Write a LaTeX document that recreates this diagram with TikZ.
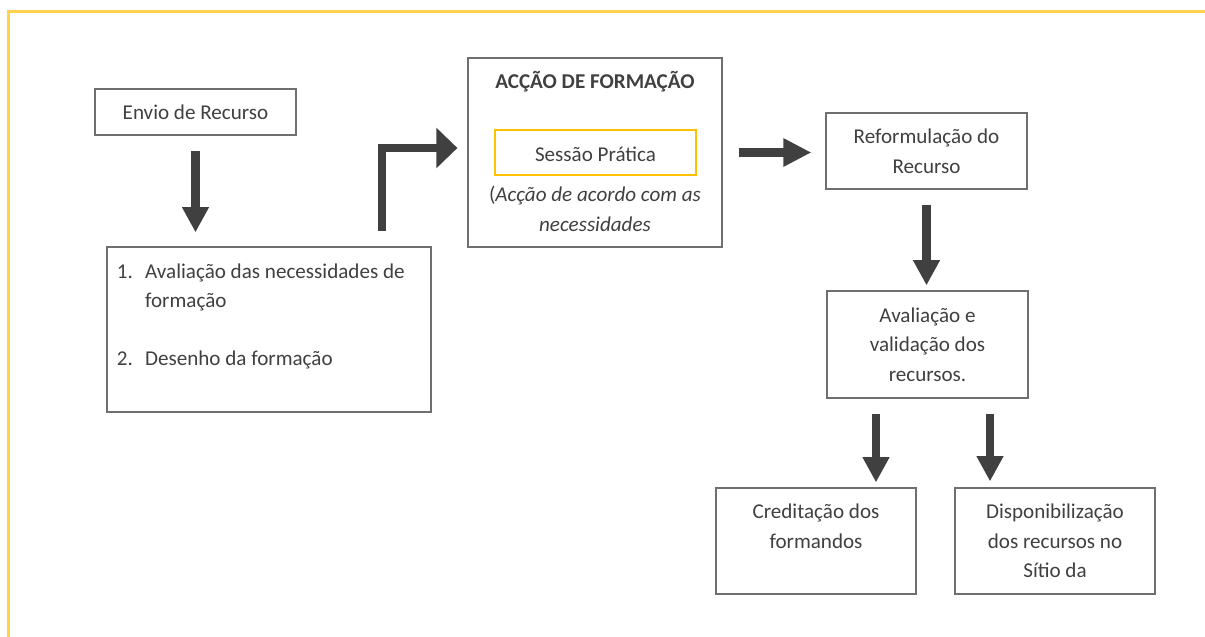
\documentclass[tikz,border=0pt]{standalone}
\usepackage{fontspec}
\setmainfont{Carlito}
\usetikzlibrary{arrows.meta,calc}

\definecolor{borda}{HTML}{6F6F6F}
\definecolor{texto}{HTML}{404040}
\definecolor{cinzaseta}{HTML}{404040}
\definecolor{amarelo}{HTML}{FFC000}
\definecolor{pagina}{HTML}{FFD24D}

\tikzset{
  caixa/.style={draw=borda, line width=0.8pt, text=texto, align=center, inner sep=0pt,
    font=\fontsize{15}{21}\selectfont},
  rotulo/.style={text=texto, inner sep=0pt, font=\fontsize{15}{21}\selectfont},
  seta/.style={draw=cinzaseta, line width=6pt, -{Triangle[width=18pt,length=18pt]}},
}

\begin{document}
\begin{tikzpicture}[x=0.025cm, y=-0.025cm]
    \useasboundingbox (0,0) rectangle (1205,637);
    \draw[pagina, line width=1.8pt] (8.5,637) -- (8.5,11.5) -- (1205,11.5);

    \node[caixa, minimum width=5.025cm, minimum height=1.15cm] (envio) at (195.5,112) {Envio de Recurso};

    \node[caixa, minimum width=8.1cm, minimum height=4.125cm] (lista) at (269,329.5) {};
    \node[rotulo, anchor=base west] (listatxt) at (116.7,278.3)
      {\begin{tabular}[t]{@{}p{20pt}@{}l@{}}
        1. & Avaliação das necessidades de\\
           & formação\\[20pt]
        2. & Desenho da formação
      \end{tabular}};

    \node[caixa, minimum width=6.35cm, minimum height=4.725cm] (accao) at (595,152.5) {};
    \node[rotulo, anchor=base, font=\fontsize{15}{21}\selectfont\bfseries] (titulo) at (595,89) {ACÇÃO DE FORMAÇÃO};
    \node[caixa, draw=amarelo, minimum width=5.025cm, minimum height=1.125cm] (sessao) at (595.5,152.5) {};
    \node[rotulo, anchor=base] (sessaotxt) at (595.5,161.7) {Sessão Prática};
    \node[rotulo, anchor=base] (nota1) at (595,201.7) {(\textit{Acção de acordo com as}};
    \node[rotulo, anchor=base] (nota2) at (595,231.7) {\textit{necessidades}};

    \node[caixa, minimum width=5.025cm, minimum height=1.9cm] (reform) at (926.5,151) {Reformulação do\\Recurso};
    \node[caixa, minimum width=5.025cm, minimum height=2.675cm] (avalia) at (927.5,344.5) {Avaliação e\\validação dos\\recursos.};
    \node[caixa, minimum width=5cm, minimum height=2.65cm] (credit) at (816,541) {Creditação dos\\formandos\\\mbox{}};
    \node[caixa, minimum width=5cm, minimum height=2.65cm] (dispon) at (1055,541) {Disponibilização\\dos recursos no\\Sítio da};

    \draw[seta, shorten <=0.375cm, shorten >=0.35cm] (envio.south) -- (envio.south |- lista.north);
    \draw[seta, -{Triangle[width=28pt,length=15pt]}, shorten <=0.375cm, shorten >=0.25cm]
      ($(lista.north)+(113,0)$) |- ($(accao.west)+(0,-4.5)$);
    \draw[seta, -{Triangle[width=19pt,length=20pt]}, shorten <=0.4cm, shorten >=0.35cm]
      (accao.east) -- (accao.east -| reform.west);
    \draw[seta, shorten <=0.375cm, shorten >=0.125cm] (reform.south) -- (reform.south |- avalia.north);

    \coordinate (s1) at ($(avalia.south)+(-51.5,0)$);
    \coordinate (s2) at ($(avalia.south)+(62.5,0)$);
    \draw[seta, shorten <=0.375cm, shorten >=0.125cm] (s1) -- (s1 |- credit.north);
    \draw[seta, shorten <=0.375cm, shorten >=0.15cm] (s2) -- (s2 |- dispon.north);

\end{tikzpicture}
\end{document}
